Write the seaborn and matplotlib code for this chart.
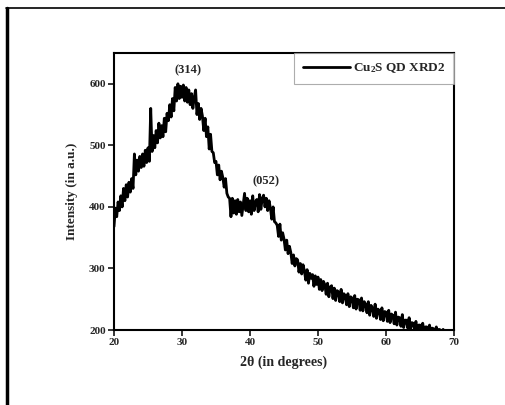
import numpy as np
import pandas as pd
import matplotlib
matplotlib.use("Agg")
import matplotlib.pyplot as plt
from matplotlib.lines import Line2D
import seaborn as sns

# ---- data ----
two_theta_start = 20.0
two_theta_step = 0.2
intensity = [
    368, 398, 384, 408, 394,
    418, 400, 430, 410, 436,
    416, 440, 424, 446, 430,
    486, 452, 476, 458, 482,
    464, 486, 466, 492, 472,
    496, 474, 560, 490, 516,
    496, 524, 504, 536, 512,
    532, 514, 544, 522, 552,
    540, 566, 546, 576, 556,
    594, 572, 600, 576, 596,
    578, 598, 572, 594, 570,
    590, 566, 584, 560, 578,
    590, 550, 568, 542, 560,
    548, 524, 544, 514, 530,
    494, 518, 490, 488, 472,
    474, 452, 468, 444, 458,
    448, 432, 446, 422, 416,
    414, 384, 414, 390, 410,
    388, 412, 392, 408, 386,
    404, 422, 394, 414, 392,
    410, 388, 418, 394, 408,
    412, 392, 420, 396, 414,
    419, 400, 414, 394, 410,
    398, 380, 400, 376, 374,
    370, 352, 372, 346, 358,
    348, 330, 346, 324, 336,
    326, 308, 322, 304, 316,
    314, 294, 308, 291, 306,
    296, 281, 298, 276, 292,
    284, 290, 271, 288, 274,
    286, 266, 282, 264, 279,
    274, 258, 276, 254, 270,
    272, 251, 268, 248, 264,
    262, 246, 266, 244, 259,
    256, 241, 259, 238, 254,
    252, 236, 256, 234, 250,
    249, 232, 252, 231, 246,
    242, 228, 246, 224, 240,
    236, 222, 242, 219, 234,
    232, 217, 236, 215, 230,
    229, 214, 232, 212, 226,
    224, 210, 229, 208, 221,
    220, 206, 225, 204, 216,
    216, 203, 220, 201, 212,
    211, 200, 214, 198, 208,
    208, 198, 211, 196, 205,
    205, 196, 208, 195, 203,
    202, 195, 205, 194, 201,
    200, 194, 201,
]
two_theta = np.round(two_theta_start + two_theta_step * np.arange(len(intensity)), 2)

peak_labels = ["(314)", "(052)"]
peak_x = [30.9, 42.4]
peak_y = [612, 432]

x_ticks = [20, 30, 40, 50, 60, 70]
y_ticks = [200, 300, 400, 500, 600]

df = pd.DataFrame({"two_theta": two_theta, "intensity": intensity})

# ---- style ----
sns.set_style("ticks")
plt.rcParams["font.family"] = ["Liberation Serif", "DejaVu Serif"]
plt.rcParams["font.weight"] = "bold"
plt.rcParams["mathtext.fontset"] = "custom"
plt.rcParams["mathtext.rm"] = "Liberation Serif:bold"
plt.rcParams["mathtext.default"] = "rm"

fig = plt.figure(figsize=(5.06, 4.05), dpi=100)
ax = fig.add_axes([114 / 506, 1 - 330 / 405, 340 / 506, 277 / 405])

sns.lineplot(data=df, x="two_theta", y="intensity", color="black", lw=2.0,
             ax=ax, label="Cu$_2$S QD XRD2")

ax.set_xlim(20, 70)
ax.set_ylim(200, 650)
ax.set_xticks(x_ticks)
ax.set_yticks(y_ticks)
ax.tick_params(axis="both", direction="out", length=4, width=1.3,
               labelsize=8, pad=2)
for lbl in ax.get_xticklabels() + ax.get_yticklabels():
    lbl.set_fontweight("bold")
for sp in ax.spines.values():
    sp.set_linewidth(1.5)
    sp.set_color("black")

ax.set_xlabel("2θ (in degrees)", fontsize=10, fontweight="bold", labelpad=6)
ax.set_ylabel("Intensity (in a.u.)", fontsize=9.5, fontweight="bold", labelpad=8)

for t, px, py in zip(peak_labels, peak_x, peak_y):
    ax.text(px, py, t, ha="center", va="bottom", fontsize=9, fontweight="bold")

leg = ax.legend(loc="upper right", borderaxespad=0, fancybox=False,
                frameon=True, fontsize=9.5, handlelength=3.6,
                borderpad=0.65, handletextpad=0.2)
leg.get_frame().set_edgecolor("#999999")
leg.get_frame().set_linewidth(0.8)
for t in leg.get_texts():
    t.set_fontweight("bold")

# outer frame lines
fig.add_artist(Line2D([7 / 506, 7 / 506], [0, 1 - 8 / 405], color="black",
                      lw=2.5, transform=fig.transFigure))
fig.add_artist(Line2D([6 / 506, 1], [1 - 8 / 405, 1 - 8 / 405], color="black",
                      lw=1.2, transform=fig.transFigure))

fig.savefig("out.png", dpi=100)
